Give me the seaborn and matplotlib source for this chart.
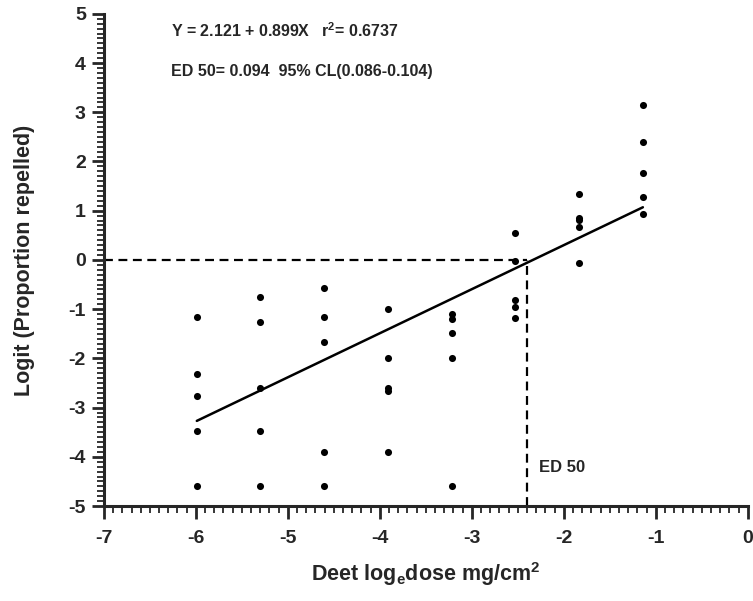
import numpy as np
import pandas as pd
import matplotlib
matplotlib.use('Agg')
import matplotlib.pyplot as plt
import seaborn as sns
from matplotlib.ticker import MultipleLocator

# log dose columns and the logits
dose_levels = [-5.99, -5.30, -4.61, -3.91, -3.22, -2.53, -1.83, -1.14]
logit_values = [
    [-1.15, -2.32, -2.76, -3.48, -4.60],
    [-0.76, -1.26, -2.60, -3.48, -4.60],
    [-0.58, -1.15, -1.66, -3.90, -4.60],
    [-1.00, -2.00, -2.60, -2.67, -3.90],
    [-1.10, -1.20, -1.48, -2.00, -4.60],
    [0.54, -0.02, -0.82, -0.95, -1.17],
    [1.34, 0.86, 0.81, 0.66, -0.06],
    [3.14, 2.40, 1.77, 1.27, 0.94],
]

# fitted line end points and ED50
fit_x = [-5.99, -1.14]
fit_y = [-3.27, 1.07]
ed50_x = -2.40

eq_text = 'Y = 2.121 + 0.899X   r$^{\\mathbf{2}}$= 0.6737'
ed_text = 'ED 50= 0.094  95% CL(0.086-0.104)'

rows = []
for d, vals in zip(dose_levels, logit_values):
    for v in vals:
        rows.append({'dose': d, 'logit': v})
df = pd.DataFrame(rows)
fit_df = pd.DataFrame({'dose': fit_x, 'logit': fit_y})

sns.set_style('ticks')
plt.rcParams['font.family'] = ['Liberation Sans', 'DejaVu Sans']
plt.rcParams['font.weight'] = 'bold'
plt.rcParams['axes.unicode_minus'] = False
plt.rcParams['mathtext.fontset'] = 'custom'
plt.rcParams['mathtext.rm'] = 'Liberation Sans:bold'
plt.rcParams['mathtext.bf'] = 'Liberation Sans:bold'

fig = plt.figure(figsize=(7.53, 6.01), dpi=100)
ax = fig.add_axes([0.138, 0.158, 0.855, 0.819])

sns.scatterplot(data=df, x='dose', y='logit', color='black', s=26,
                edgecolor='black', linewidth=0, ax=ax, zorder=3, clip_on=False)
sns.lineplot(data=fit_df, x='dose', y='logit', color='black', lw=1.8, ax=ax)

# dashed ED50 guides
ax.plot([-7, ed50_x], [0, 0], color='black', lw=1.6, ls=(0, (4, 2.5)))
ax.plot([ed50_x, ed50_x], [-5, 0], color='black', lw=1.6, ls=(0, (4, 2.5)))

ax.set_xlim(-7, 0)
ax.set_ylim(-5, 5)
ax.xaxis.set_major_locator(MultipleLocator(1))
ax.xaxis.set_minor_locator(MultipleLocator(0.1))
ax.yaxis.set_major_locator(MultipleLocator(1))
ax.yaxis.set_minor_locator(MultipleLocator(0.1))
ax.tick_params(which='major', direction='out', length=9, width=2, labelsize=14)
ax.tick_params(which='minor', direction='out', length=5, width=1.3)
ax.tick_params(axis='x', which='major', pad=8)
ax.tick_params(axis='y', which='major', pad=4)
for lab in ax.get_xticklabels() + ax.get_yticklabels():
    lab.set_fontweight('bold')

sns.despine(ax=ax)
ax.spines['left'].set_linewidth(2.2)
ax.spines['bottom'].set_linewidth(2.2)

ax.set_xlabel('Deet log$_{\\mathbf{e}}$dose mg/cm$^{\\mathbf{2}}$', fontsize=15.5, fontweight='bold', labelpad=10)
ax.set_ylabel('Logit (Proportion repelled)', fontsize=15.5, fontweight='bold', labelpad=24)

ax.text(-6.27, 4.65, eq_text, fontsize=11.5, fontweight='bold', va='center')
ax.text(-6.27, 3.83, ed_text, fontsize=11.5, fontweight='bold', va='center')
ax.text(-2.27, -4.22, 'ED 50', fontsize=12, fontweight='bold', va='center')

fig.savefig('out.png', dpi=100)
